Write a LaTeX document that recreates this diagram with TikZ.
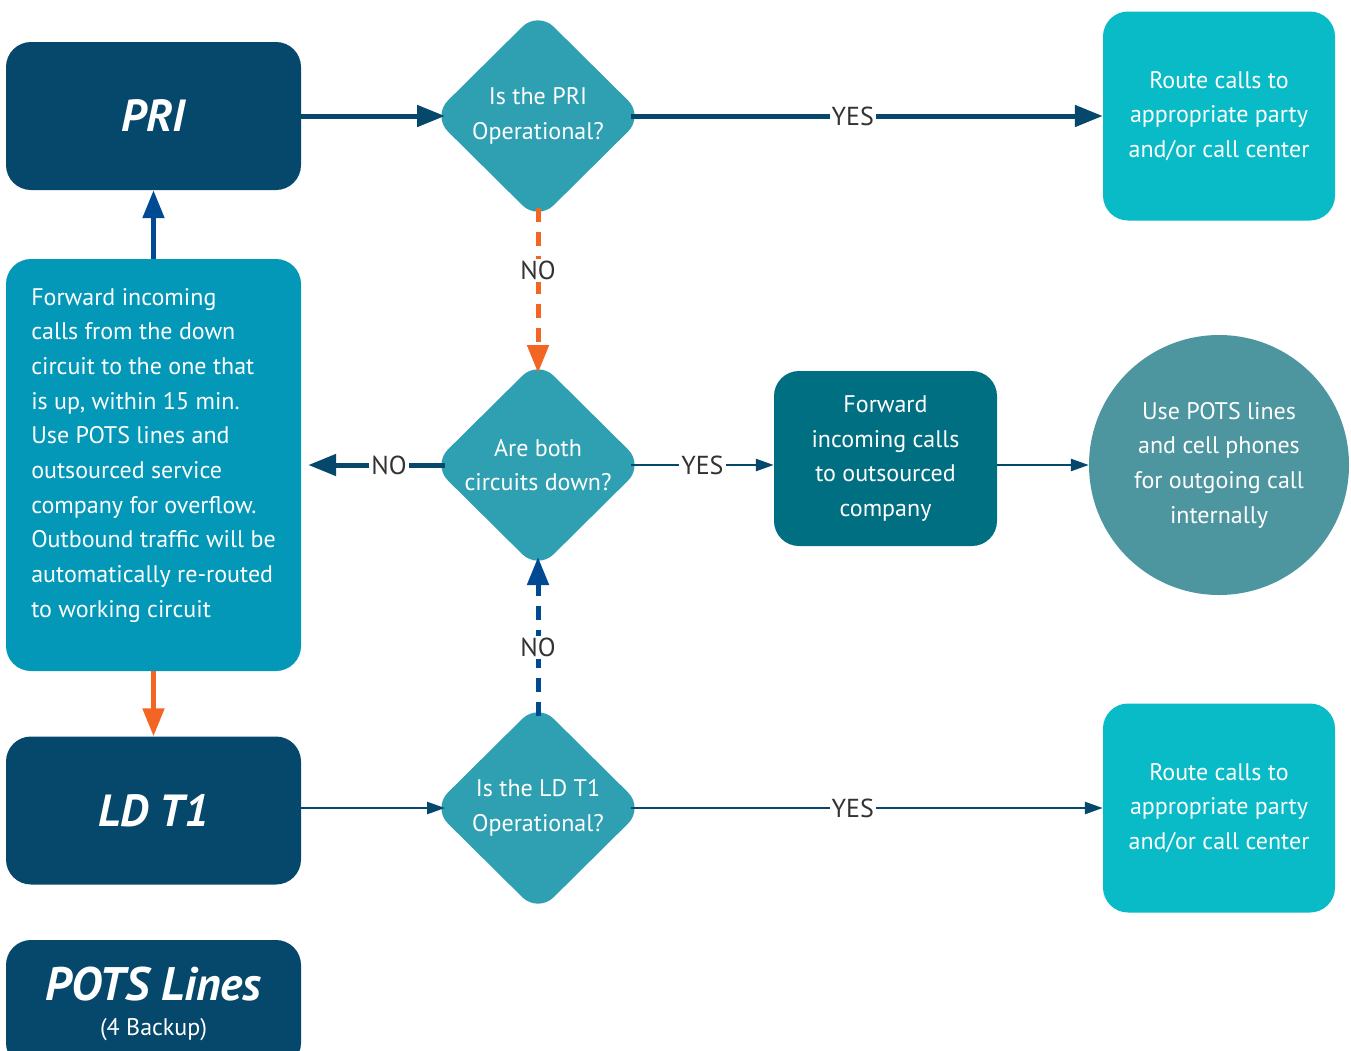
\documentclass[tikz,border=0pt]{standalone}
\usepackage{fontspec}
\setmainfont{PT Sans}
\usetikzlibrary{shapes.geometric,arrows.meta}
\definecolor{navy}{HTML}{06486B}
\definecolor{ocean}{HTML}{0397B8}
\definecolor{decide}{HTML}{2FA0B2}
\definecolor{aqua}{HTML}{08BBC6}
\definecolor{petrol}{HTML}{006F82}
\definecolor{slate}{HTML}{4D96A0}
\definecolor{flame}{HTML}{F26522}
\definecolor{royal}{HTML}{004A94}
\definecolor{ink}{HTML}{333333}

\begin{document}
\begin{tikzpicture}[x=1pt, y=-1pt,
        every node/.style={inner sep=0pt, text=white, font=\fontsize{24}{34.7}\selectfont},
        box/.style={rectangle, rounded corners=25pt, minimum width=295pt, minimum height=148pt, align=center},
        circuit/.style={box, fill=navy, font=\fontsize{45}{50}\selectfont\bfseries\itshape},
        decision/.style={diamond, fill=decide, rounded corners=22pt, minimum width=204pt, minimum height=202pt, outer sep=-9pt, align=center},
        route/.style={box, fill=aqua, minimum width=232pt, minimum height=209pt},
        answer/.style={fill=white, text=ink, inner sep=2pt, font=\fontsize{26}{30}\selectfont},
        bigarrow/.style={line width=5pt, -{Triangle[length=28pt,width=21pt]}},
        smallarrow/.style={line width=2.5pt, -{Triangle[length=18pt,width=12pt]}},
        dashes/.style={dash pattern=on 14pt off 10pt}]
        \useasboundingbox (0,0) rectangle (1351,1050);
        \node[circuit] (pri) at (153.5,116) {PRI};
        \node[box, fill=ocean, minimum height=412pt, align=left] (fwd) at (153.5,465)
        {Forward incoming\\calls from the down\\circuit to the one that\\is up, within 15 min.\\Use POTS lines and\\outsourced service\\company for overflow.\\Outbound traffic will be\\automatically re-routed\\to working circuit\\[-10pt]\mbox{}};
        \node[circuit] (ldt) at (153.5,810.5) {LD T1};
        \node[circuit, minimum height=128pt] (pots) at (153.5,1004)
        {\fontsize{47}{50}\selectfont POTS Lines\\[-15pt]{\fontsize{24}{28}\selectfont\mdseries\upshape (4 Backup)}};
        \node[decision] (pri ok) at (538,116) {Is the PRI\\Operational?};
        \node[decision] (both) at (538,465) {Are both\\circuits down?};
        \node[decision] (ldt ok) at (538,808) {Is the LD T1\\Operational?};
        \node[route] (route top) at (1219,116) {Route calls to\\appropriate party\\and/or call center};
        \node[route] (route low) at (1219,808) {Route calls to\\appropriate party\\and/or call center};
        \node[box, fill=petrol, minimum width=223pt, minimum height=175pt] (outsource) at (885.5,458.5)
        {Forward\\incoming calls\\to outsourced\\company};
        \node[circle, fill=slate, minimum size=260pt, align=center] (cells) at (1219,465)
        {Use POTS lines\\and cell phones\\for outgoing call\\internally};

        \draw[bigarrow, navy] (pri) -- (pri ok);
        \draw[bigarrow, navy] (pri ok) -- node[answer, pos=0.47] {YES} (route top);
        \draw[bigarrow, flame, dashes] (pri ok) -- node[answer, pos=0.38] {NO} (both);
        \draw[bigarrow, navy, shorten >=7pt] (both) -- node[answer, pos=0.39] {NO} (fwd);
        \draw[smallarrow, navy] (both) -- node[answer] {YES} (both -| outsource.west);
        \draw[smallarrow, navy] (outsource.east |- cells) -- (cells);
        \draw[bigarrow, royal, dashes] (ldt ok) -- node[answer, pos=0.43] {NO} (both);
        \draw[bigarrow, royal] (fwd) -- (pri);
        \draw[bigarrow, flame] (fwd) -- (ldt);
        \draw[smallarrow, navy] (ldt.east |- ldt ok) -- (ldt ok);
        \draw[smallarrow, navy] (ldt ok) -- node[answer, pos=0.47] {YES} (route low);
\end{tikzpicture}
\end{document}
